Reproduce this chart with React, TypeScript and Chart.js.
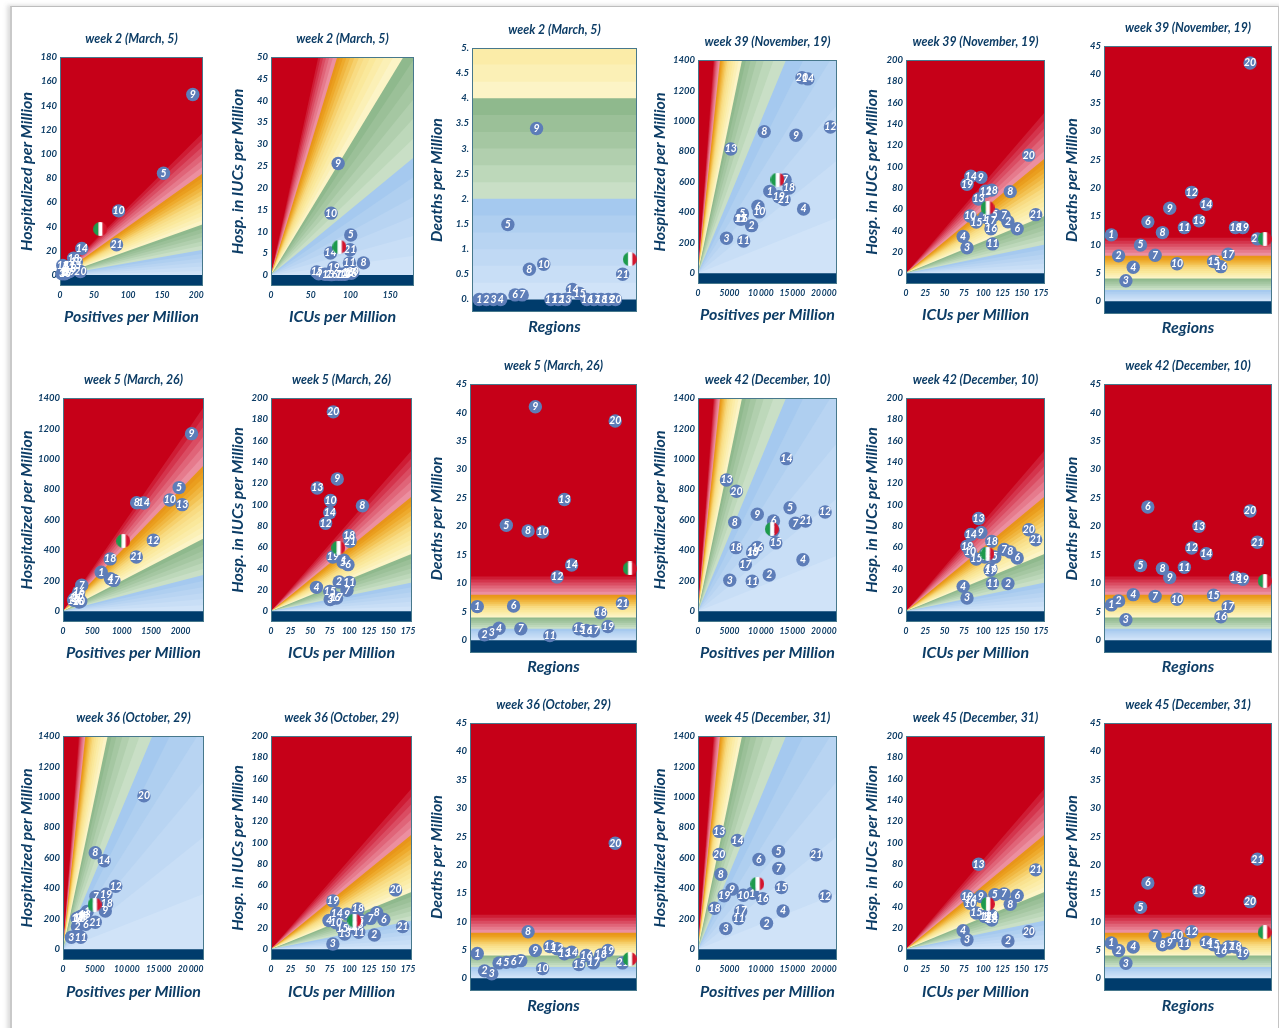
import React, { useEffect, useRef } from "react";
import { Chart, registerables } from "chart.js";

Chart.register(...registerables);

// ---------- categories and tick labels ----------
const regionLabels = ["1","2","3","4","5","6","7","8","9","10","11","12","13","14","15","16","17","18","19","20","21"];
const regionIndex = [1,2,3,4,5,6,7,8,9,10,11,12,13,14,15,16,17,18,19,20,21];

const hospTicks1400 = [0,200,400,600,800,1000,1200,1400];
const hospTicks180 = [0,20,40,60,80,100,120,140,160,180];
const icuTicks200 = [0,20,40,60,80,100,120,140,160,180,200];
const icuTicks50 = [0,5,10,15,20,25,30,35,40,45,50];
const deathTicks45 = [0,5,10,15,20,25,30,35,40,45];
const deathTicks5 = [0,0.5,1,1.5,2,2.5,3,3.5,4,4.5,5];
const posTicks200 = [0,50,100,150,200];
const posTicks2000 = [0,500,1000,1500,2000];
const posTicks20000 = [0,5000,10000,15000,20000];
const icuXTicks150 = [0,50,100,150];
const icuXTicks175 = [0,25,50,75,100,125,150,175];

// ---------- background bands ----------
const deathLevels = [0.33,0.67,1,1.33,1.67,2,2.33,2.67,3,3.33,3.67,4,4.33,4.67,5,5.33,5.67,6,6.33,6.67,7,7.33,7.67,8,8.53,9.07,9.6,10.13,10.67,11.2];
const bandColors = [
  "#d0e3f8","#c8def6","#c0d9f4","#b8d4f2","#afcff0","#a5c9ef",
  "#c9dfc6","#bdd8ba","#b1cfae","#a5c7a2","#9bc098","#8fb98d",
  "#fcf4c6","#fbf0b6","#fbeca8","#fae89b","#f9e290","#f8db82",
  "#f6d06c","#f3c354","#f0b640","#eeaa2c","#ea9e1e","#e8951a",
  "#ec8fa0","#e67a8c","#e06478","#da4c62","#d4344c","#ce1c34",
];
const posSlopeFactor = 0.05;
const icuSlopeFactor = 0.075;

// ---------- series: week 2 ----------
const w2HospX = [5,8,3,10,152,6,8,20,195,86,12,24,22,32,4,7,10,20,14,30,83];
const w2HospY = [3,2,1,4,84,5,7,5,149,53,6,11,8,22,8,1,2,14,3,3,25];
const w2HospItaly = [59,38];
const w2IcuX = [68,72,76,60,100.4,80,85,116.4,84.5,75.6,98.7,89,93,74.8,57.6,96,99,101,79,103,99.6];
const w2IcuY = [0.2,0.2,0.1,0.3,9.2,0.2,0.2,2.8,25.6,14.2,2.8,0.2,0.2,5.05,0.7,0.6,0.6,0.4,1.7,0.7,5.8];
const w2IcuItaly = [86,6.5];
const w2Deaths = [0,0,0,0,1.49,0.09,0.09,0.6,3.4,0.7,0,0,0,0.2,0.12,0,0,0,0,0,0.5];
const w2DeathsItaly = [22,0.8];

// ---------- series: week 5 ----------
const w5HospX = [650,199,239,809,1977,302,319,1254,2188,1818,216,1538,2028,1373,256,268,866,803,182,273,1248];
const w5HospY = [256,83,70,214,812,66,171,713,1166,731,87,466,700,711,105,127,203,344,72,61,357];
const w5HospItaly = [1026,462];
const w5IcuX = [93,87,75.6,58,92,98.3,97,116.7,84.6,76,100,69.7,59,75,75,80.8,83.8,99.6,79,79.5,101];
const w5IcuY = [48,27.5,11,22.5,46,43.75,19.7,99,124,104,27,82.5,115.6,92.5,18.75,12.8,12.5,71,51,187,65.6];
const w5IcuItaly = [86,59.7];
const w5Deaths = [5.9,0.95,1.3,2.1,20.2,6,2,19.2,41,19,0.8,11.1,24.7,13.2,2,1.7,1.6,4.8,2.4,38.5,6.5];
const w5DeathsItaly = [22,12.6];

// ---------- series: weeks 36, 39, 42, 45 ----------
const icuXLate = [102,132,79,74,115,144,127,135,97,83,112,103,94,84,91,110,109,111,79,159,168];

const w36HospX = [3789,2263,1316,3158,2789,3579,5158,5053,6632,2632,2789,8263,3421,6474,3053,2211,2526,6842,6737,12684,5053];
const w36HospY = [248,149,79,222,215,164,346,634,252,204,79,414,226,581,215,204,208,298,362,1007,178];
const w36HospItaly = [4947,294];
const w36IcuY = [21,13.5,5,27,27,28,29,34.4,33,25,16,22,14.4,33.8,19.7,23,21,37.9,45.4,55.7,21.3];
const w36IcuItaly = [106.5,27];
const w36Deaths = [4.35,1.3,0.8,2.7,2.8,2.9,3.1,8.2,4.9,1.7,5.6,5.2,4.3,4.6,2.4,4,2.7,4.1,4.9,23.8,2.7];
const w36DeathsItaly = [22,3.4];

const w39HospX = [11421,8526,4526,16789,7053,9526,13840,10526,15579,9737,7263,21053,5210,17474,6684,6947,6800,14474,12842,16526,13684];
const w39HospY = [538,313,230,422,389,440,615,930,906,403,212,960,816,1276,357,357,360,560,503,1284,484];
const w39HospItaly = [12632,615];
const w39IcuY = [52.7,48.4,24,34.5,55,41.8,54,76.6,90,53.7,27.6,77,69.7,91,48,41.8,49.6,78,83.5,110.8,55];
const w39IcuItaly = [105.6,61.5];
const w39Deaths = [11.7,8,3.6,6,9.9,14,8.1,12.1,16.4,6.6,13,19.2,14.2,17.1,7,6.1,8.3,13,13,42,11];
const w39DeathsItaly = [22,11];

const w42HospX = [11950,11316,5053,16684,14632,12000,15474,5842,9421,8684,8632,20211,4526,14053,12368,9421,7526,6053,8800,6105,17105];
const w42HospY = [530,238,204,339,680,593,578,584,637,385,197,652,862,1002,449,420,308,418,395,788,593];
const w42HospItaly = [11737,540];
const w42IcuY = [51,26,12.5,23.4,51,50,58,55.6,74,56,26,54,87,72,49,40,38.5,65.6,61,76.5,67];
const w42IcuItaly = [105.5,54];
const w42Deaths = [6.2,6.9,3.6,8,13.1,23.4,7.7,12.6,11,7.2,12.8,16.2,20,15.2,7.9,4.1,5.9,11,10.7,22.7,17.2];
const w42DeathsItaly = [22,10.4];

const w45HospX = [8632,10895,4421,13526,12789,9684,12842,3632,5421,7211,6474,20211,3368,6263,13263,10263,6789,2632,4158,3368,18789];
const w45HospY = [368,171,136,252,643,590,531,493,395,355,202,349,774,715,406,333,252,270,351,623,621];
const w45HospItaly = [9421,430];
const w45IcuY = [30.7,7.8,9,17.5,51.3,50.4,52,42.3,49.5,43.2,30.7,31,79.8,47,34,32,29,27.5,49.8,16.6,74.5];
const w45IcuItaly = [106,42.6];
const w45Deaths = [6.2,4.9,2.65,5.5,12.5,16.8,7.5,5.9,6.2,7.5,6.1,8.2,15.4,6.35,5.9,4.8,5.5,5.5,4.35,13.5,21];
const w45DeathsItaly = [22,8.1];

// ---------- style ----------
const INK = "#0d3d66";
const NAVY = "#003c6c";
const RED = "#c60018";
const BUBBLE = "#5d7db8";
const FRAME = "#47788c";
const FONT = 'Lato, "Open Sans", sans-serif';
const Y_BOX = 50;
const X_BOX = 45;
const TITLE_BOX = 28;
const RIGHT_PAD = 16;

type Panel = {
  title: string; xTitle: string; yTitle: string;
  xs: number[]; ys: number[]; italy: number[];
  xMax: number; yMax: number; xTicks: number[]; yTicks: number[];
  kind: "pos" | "icu" | "deaths";
  rect: number[]; yOff: number; xOff: number;
};

const W2 = "week 2 (March, 5)", W5 = "week 5 (March, 26)", W36 = "week 36 (October, 29)";
const W39 = "week 39 (November, 19)", W42 = "week 42 (December, 10)", W45 = "week 45 (December, 31)";
const POS = "Positives per Million", ICU = "ICUs per Million", REG = "Regions";
const HP = "Hospitalized per Million", HI = "Hosp. in IUCs per Million", DP = "Deaths per Million";

const panels: Panel[] = [
  { title: W2, xTitle: POS, yTitle: HP, xs: w2HospX, ys: w2HospY, italy: w2HospItaly, xMax: 210, yMax: 180, xTicks: posTicks200, yTicks: hospTicks180, kind: "pos", rect: [60,203,57,286], yOff: 33, xOff: 31 },
  { title: W2, xTitle: ICU, yTitle: HI, xs: w2IcuX, ys: w2IcuY, italy: w2IcuItaly, xMax: 180, yMax: 50, xTicks: icuXTicks150, yTicks: icuTicks50, kind: "icu", rect: [271,414,57,286], yOff: 33, xOff: 31 },
  { title: W2, xTitle: REG, yTitle: DP, xs: regionIndex, ys: w2Deaths, italy: w2DeathsItaly, xMax: 23, yMax: 5, xTicks: [], yTicks: deathTicks5, kind: "deaths", rect: [472,637,48,312], yOff: 35, xOff: 15 },
  { title: W39, xTitle: POS, yTitle: HP, xs: w39HospX, ys: w39HospY, italy: w39HospItaly, xMax: 22100, yMax: 1400, xTicks: posTicks20000, yTicks: hospTicks1400, kind: "pos", rect: [698,837,60,284], yOff: 38, xOff: 31 },
  { title: W39, xTitle: ICU, yTitle: HI, xs: icuXLate, ys: w39IcuY, italy: w39IcuItaly, xMax: 180, yMax: 200, xTicks: icuXTicks175, yTicks: icuTicks200, kind: "icu", rect: [906,1045,60,284], yOff: 34, xOff: 31 },
  { title: W39, xTitle: REG, yTitle: DP, xs: regionIndex, ys: w39Deaths, italy: w39DeathsItaly, xMax: 23, yMax: 45, xTicks: [], yTicks: deathTicks45, kind: "deaths", rect: [1104,1272,46,314], yOff: 32, xOff: 14 },

  { title: W5, xTitle: POS, yTitle: HP, xs: w5HospX, ys: w5HospY, italy: w5HospItaly, xMax: 2400, yMax: 1400, xTicks: posTicks2000, yTicks: hospTicks1400, kind: "pos", rect: [63,204,398,622], yOff: 36, xOff: 31 },
  { title: W5, xTitle: ICU, yTitle: HI, xs: w5IcuX, ys: w5IcuY, italy: w5IcuItaly, xMax: 180, yMax: 200, xTicks: icuXTicks175, yTicks: icuTicks200, kind: "icu", rect: [271,412,398,622], yOff: 33, xOff: 31 },
  { title: W5, xTitle: REG, yTitle: DP, xs: regionIndex, ys: w5Deaths, italy: w5DeathsItaly, xMax: 23, yMax: 45, xTicks: [], yTicks: deathTicks45, kind: "deaths", rect: [470,637,384,653], yOff: 33, xOff: 14 },
  { title: W42, xTitle: POS, yTitle: HP, xs: w42HospX, ys: w42HospY, italy: w42HospItaly, xMax: 22100, yMax: 1400, xTicks: posTicks20000, yTicks: hospTicks1400, kind: "pos", rect: [698,837,398,622], yOff: 38, xOff: 31 },
  { title: W42, xTitle: ICU, yTitle: HI, xs: icuXLate, ys: w42IcuY, italy: w42IcuItaly, xMax: 180, yMax: 200, xTicks: icuXTicks175, yTicks: icuTicks200, kind: "icu", rect: [906,1045,398,622], yOff: 34, xOff: 31 },
  { title: W42, xTitle: REG, yTitle: DP, xs: regionIndex, ys: w42Deaths, italy: w42DeathsItaly, xMax: 23, yMax: 45, xTicks: [], yTicks: deathTicks45, kind: "deaths", rect: [1104,1272,384,653], yOff: 32, xOff: 14 },

  { title: W36, xTitle: POS, yTitle: HP, xs: w36HospX, ys: w36HospY, italy: w36HospItaly, xMax: 22100, yMax: 1400, xTicks: posTicks20000, yTicks: hospTicks1400, kind: "pos", rect: [63,204,736,960], yOff: 36, xOff: 32 },
  { title: W36, xTitle: ICU, yTitle: HI, xs: icuXLate, ys: w36IcuY, italy: w36IcuItaly, xMax: 180, yMax: 200, xTicks: icuXTicks175, yTicks: icuTicks200, kind: "icu", rect: [271,412,736,960], yOff: 33, xOff: 32 },
  { title: W36, xTitle: REG, yTitle: DP, xs: regionIndex, ys: w36Deaths, italy: w36DeathsItaly, xMax: 23, yMax: 45, xTicks: [], yTicks: deathTicks45, kind: "deaths", rect: [470,637,723,991], yOff: 33, xOff: 15 },
  { title: W45, xTitle: POS, yTitle: HP, xs: w45HospX, ys: w45HospY, italy: w45HospItaly, xMax: 22100, yMax: 1400, xTicks: posTicks20000, yTicks: hospTicks1400, kind: "pos", rect: [698,837,736,960], yOff: 38, xOff: 32 },
  { title: W45, xTitle: ICU, yTitle: HI, xs: icuXLate, ys: w45IcuY, italy: w45IcuItaly, xMax: 180, yMax: 200, xTicks: icuXTicks175, yTicks: icuTicks200, kind: "icu", rect: [906,1045,736,960], yOff: 34, xOff: 32 },
  { title: W45, xTitle: REG, yTitle: DP, xs: regionIndex, ys: w45Deaths, italy: w45DeathsItaly, xMax: 23, yMax: 45, xTicks: [], yTicks: deathTicks45, kind: "deaths", rect: [1104,1272,723,991], yOff: 32, xOff: 15 },
];

function flagCanvas(): HTMLCanvasElement {
  const s = 14;
  const c = document.createElement("canvas");
  c.width = s; c.height = s;
  const g = c.getContext("2d")!;
  g.beginPath(); g.arc(s / 2, s / 2, s / 2, 0, Math.PI * 2); g.clip();
  g.fillStyle = "#1d9a4c"; g.fillRect(0, 0, s * 0.38, s);
  g.fillStyle = "#ffffff"; g.fillRect(s * 0.38, 0, s * 0.3, s);
  g.fillStyle = "#d3142c"; g.fillRect(s * 0.68, 0, s * 0.32, s);
  return c;
}

function xTickText(v: number): string {
  if (v >= 10000) return Math.floor(v / 1000) + "\u2009000";
  return String(v);
}

function yTickText(v: number, dotted: boolean): string {
  if (dotted && Number.isInteger(v)) return v + ".";
  return String(v);
}

const panelPlugin = {
  id: "panelMarks",
  afterDatasetDraw(chart: any, args: any) {
    const ctx = chart.ctx;
    if (args.index === 1) {
      ctx.save();
      ctx.fillStyle = "#ffffff";
      ctx.font = `italic 700 10.5px ${FONT}`;
      ctx.textAlign = "center";
      ctx.textBaseline = "middle";
      args.meta.data.forEach((pt: any, i: number) => {
        ctx.fillText(regionLabels[i], pt.x, pt.y);
      });
      ctx.restore();
    }
    if (args.index === 2) {
      const a = chart.chartArea;
      ctx.save();
      ctx.strokeStyle = FRAME;
      ctx.lineWidth = 1;
      ctx.strokeRect(a.left + 0.5, a.top + 0.5, a.right - a.left - 1, a.bottom - a.top - 1);
      ctx.restore();
    }
  },
};

function buildChart(canvas: HTMLCanvasElement, p: Panel, flag: HTMLCanvasElement) {
  const yMin = -0.05 * p.yMax;
  const hLine = (y: number) => [{ x: 0, y }, { x: p.xMax, y }];
  const band = (level: number) => {
    if (p.kind === "deaths") return hLine(level);
    const k = level * (p.kind === "pos" ? posSlopeFactor : icuSlopeFactor);
    return [{ x: 0, y: 0 }, { x: p.xMax, y: k * p.xMax }];
  };
  const area = (data: any[], color: string) => ({
    data, fill: "start", backgroundColor: color, borderWidth: 0, pointRadius: 0, tension: 0,
  });
  const datasets: any[] = [
    { data: [{ x: p.italy[0], y: p.italy[1] }], showLine: false, pointStyle: flag, pointRadius: 7, clip: false },
    { data: p.xs.map((x, i) => ({ x, y: p.ys[i] })), showLine: false, pointStyle: "circle", pointRadius: 6.7, pointBackgroundColor: BUBBLE, pointBorderWidth: 0, clip: false },
    area(hLine(0), NAVY),
    ...deathLevels.map((l, i) => area(band(l), bandColors[i])),
    area(hLine(p.yMax), RED),
  ];
  const dotted = p.yMax === 5;
  return new Chart(canvas, {
    type: "line",
    data: { datasets },
    plugins: [panelPlugin],
    options: {
      animation: false,
      responsive: false,
      events: [],
      layout: { autoPadding: false, padding: { left: 0, right: RIGHT_PAD, top: 0, bottom: 0 } },
      plugins: {
        legend: { display: false },
        tooltip: { enabled: false },
        title: {
          display: true, text: p.title, color: INK, align: "center", fullSize: false,
          font: { family: FONT, size: 12.3, weight: "700", style: "italic", lineHeight: "16px" },
          padding: { top: 2, bottom: TITLE_BOX - 18 },
        },
      },
      scales: {
        x: {
          type: "linear", min: 0, max: p.xMax, bounds: "data",
          grid: { display: false, drawTicks: false },
          border: { display: false },
          title: {
            display: true, text: p.xTitle, color: INK,
            font: { family: FONT, size: 16, weight: "700", style: "italic", lineHeight: "18px" },
            padding: { top: 0, bottom: X_BOX - p.xOff - 9 },
          },
          ticks: {
            display: p.xTicks.length > 0, color: INK, autoSkip: false, maxRotation: 0, padding: 4,
            font: { family: FONT, size: 8.5, weight: "700", style: "italic" },
            callback: (v: any) => xTickText(v),
          },
          afterBuildTicks: (s: any) => { s.ticks = p.xTicks.map((value) => ({ value })); },
          afterFit: (s: any) => { s.height = X_BOX; },
        },
        y: {
          type: "linear", min: yMin, max: p.yMax, bounds: "data",
          grid: { display: false, drawTicks: false },
          border: { display: false },
          title: {
            display: true, text: p.yTitle, color: INK,
            font: { family: FONT, size: 16, weight: "700", style: "italic", lineHeight: "18px" },
            padding: { top: Y_BOX - p.yOff - 9, bottom: 0 },
          },
          ticks: {
            color: INK, autoSkip: false, padding: 3,
            font: { family: FONT, size: 9.5, weight: "700", style: "italic" },
            callback: (v: any) => yTickText(v, dotted),
          },
          afterBuildTicks: (s: any) => { s.ticks = p.yTicks.map((value) => ({ value })); },
          afterFit: (s: any) => { s.width = Y_BOX; },
        },
      },
    } as any,
  } as any);
}

function PanelChart({ p, flag }: { p: Panel; flag: HTMLCanvasElement }) {
  const ref = useRef<HTMLCanvasElement | null>(null);
  const [l, r, t, b] = p.rect;
  const width = r - l + Y_BOX + RIGHT_PAD;
  const height = b - t + TITLE_BOX + X_BOX;
  useEffect(() => {
    const chart = buildChart(ref.current!, p, flag);
    return () => chart.destroy();
  }, []);
  return (
    <canvas
      ref={ref}
      width={width}
      height={height}
      style={{ position: "absolute", left: l - Y_BOX, top: t - TITLE_BOX, width, height, filter: "blur(0.35px)" }}
    />
  );
}

const flagImage = typeof document !== "undefined" ? flagCanvas() : (null as any);

export default function App() {
  return (
    <div style={{ position: "absolute", left: 0, top: 0, width: 1279, height: 1028, overflow: "hidden", background: "#fff" }}>
      <div
        style={{
          position: "absolute", left: 10, top: 6, width: 1275, height: 1040,
          borderLeft: "2px solid #c9c9c9", borderTop: "1px solid #bdbdbd",
          boxShadow: "-3px -1px 4px rgba(120,120,120,0.25)",
        }}
      />
      <div style={{ position: "absolute", right: 0, top: 6, width: 1, height: 1022, background: "#c4c4c4" }} />
      {panels.map((p, i) => <PanelChart key={i} p={p} flag={flagImage} />)}
    </div>
  );
}
